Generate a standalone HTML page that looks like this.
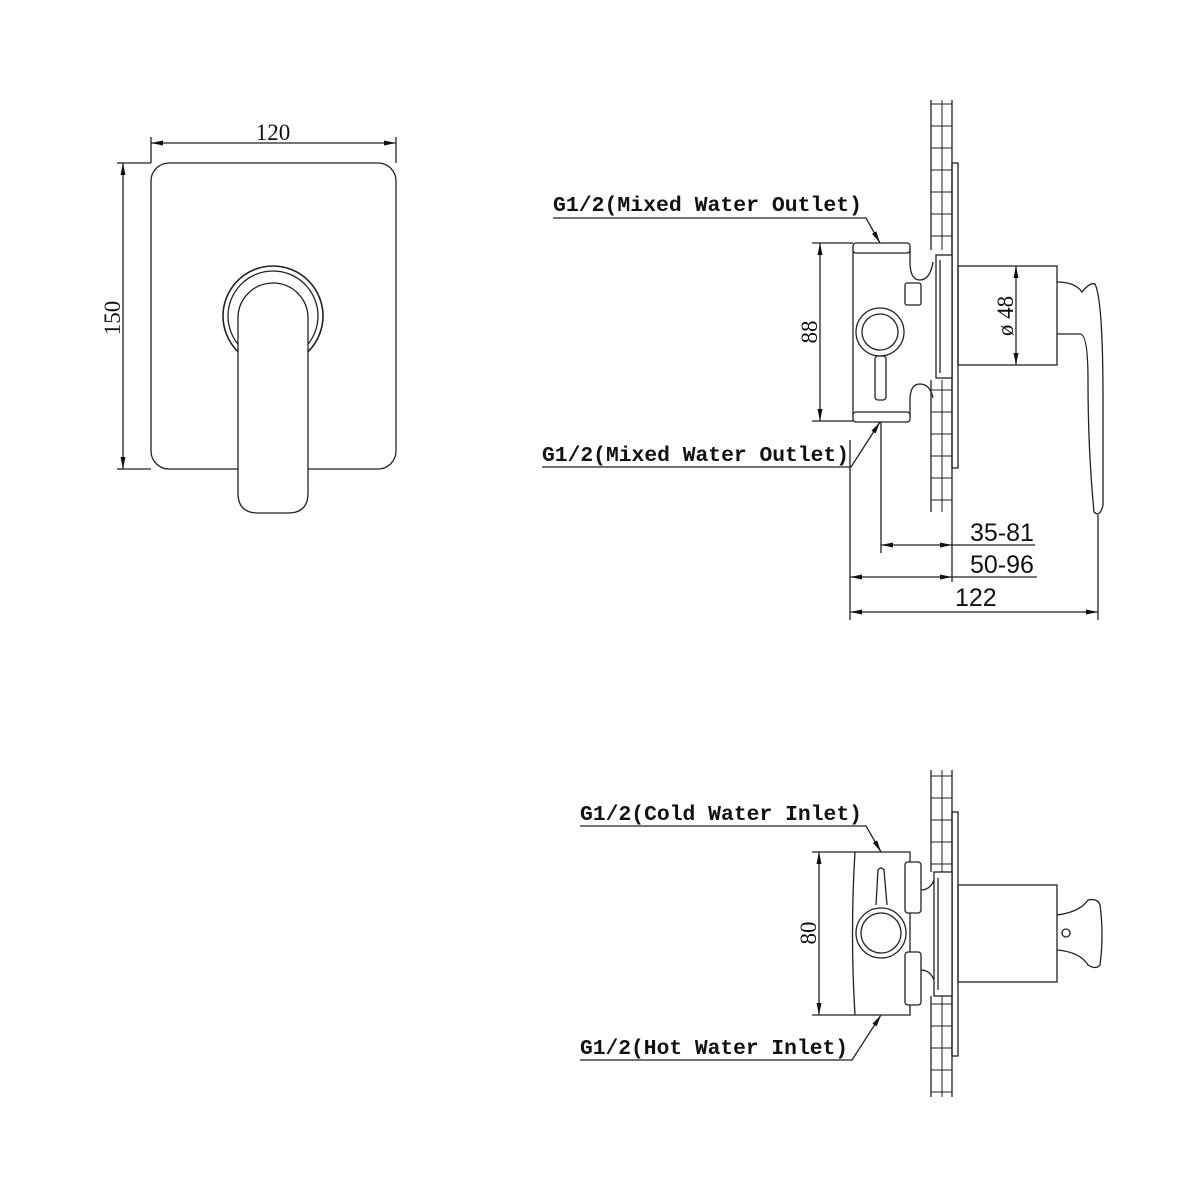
<!DOCTYPE html>
<html><head><meta charset="utf-8"><style>
html,body{margin:0;padding:0;background:#fff}
svg{display:block}
.m{font-family:"Liberation Mono",monospace;font-weight:bold;font-size:21px;fill:#111}
.n{font-family:"Liberation Serif",serif;font-size:23px;fill:#111;font-weight:normal}
.s{font-family:"Liberation Sans",sans-serif;font-size:25px;fill:#111}
</style></head><body>
<svg width="1200" height="1200" viewBox="0 0 1200 1200" xmlns="http://www.w3.org/2000/svg">
<defs>
<marker id="a" viewBox="0 0 12 6" refX="12" refY="3" markerWidth="12" markerHeight="6" orient="auto-start-reverse" markerUnits="userSpaceOnUse"><path d="M0,0.5 L12,3 L0,5.5z" fill="#111"/></marker>
</defs>
<g fill="none" stroke="#222" stroke-width="1.3">
<!-- LEFT VIEW -->
<rect x="151" y="163" width="245" height="306" rx="18"/>
<circle cx="273" cy="316" r="50" stroke-width="1.6"/>
<circle cx="273" cy="316" r="45"/>
<path d="M238,318 A35,35 0 0 1 308,318 L308,493 Q308,513 288,513 L258,513 Q238,513 238,493 Z" fill="#fff"/>
<line x1="151" y1="137" x2="151" y2="163"/><line x1="396" y1="137" x2="396" y2="163"/>
<line x1="151" y1="143" x2="396" y2="143" marker-start="url(#a)" marker-end="url(#a)"/>
<line x1="117" y1="163" x2="151" y2="163"/><line x1="117" y1="469" x2="151" y2="469"/>
<line x1="123" y1="163" x2="123" y2="469" marker-start="url(#a)" marker-end="url(#a)"/>

<!-- TOP RIGHT wall -->
<path stroke-width="1" d="M931,104h21M931,126h21M931,148h21M931,170h21M931,192h21M931,214h21M931,236h21M931,390h21M931,412h21M931,434h21M931,456h21M931,478h21M931,500h21M942,100V250M942,380V512"/>
<line x1="931" y1="100" x2="931" y2="250"/><line x1="931" y1="380" x2="931" y2="512"/>
<line x1="952" y1="100" x2="952" y2="512"/>
<rect x="952" y="163" width="6" height="305"/>
<rect x="936" y="255" width="16" height="123" fill="#fff"/>
<line x1="940" y1="260" x2="940" y2="373"/>
<path d="M853,248 L853,417 M910,248 L910,262 Q910,280 920,280 Q930,280 933,262 M910,417 L910,400 Q910,384 920,384 Q930,384 933,398"/>
<rect x="853" y="243" width="57" height="10" rx="3" fill="#fff"/>
<rect x="853" y="412" width="57" height="10" rx="3" fill="#fff"/>
<rect x="905" y="283" width="16" height="22" rx="2"/>
<circle cx="880" cy="332" r="24"/><circle cx="880" cy="332" r="18"/>
<rect x="875" y="356" width="11" height="44" rx="3"/>
<rect x="958" y="266" width="99" height="99"/>
<path d="M1057,282 Q1075,282 1082,292 Q1090,282 1095,284 Q1103,300 1103,400 L1103,505 Q1100,518 1094,512 Q1088,450 1088,380 Q1088,334 1080,334 L1057,334"/>
<line x1="1016" y1="266" x2="1016" y2="365" marker-start="url(#a)" marker-end="url(#a)"/>
<!-- 88 -->
<line x1="812" y1="243" x2="853" y2="243"/><line x1="812" y1="421" x2="853" y2="421"/>
<line x1="820" y1="243" x2="820" y2="421" marker-start="url(#a)" marker-end="url(#a)"/>
<path d="M553,218 L866,218 L880,243" marker-end="url(#a)"/>
<path d="M542,467 L851,467 L880,422" marker-end="url(#a)"/>
<line x1="881" y1="422" x2="881" y2="553"/>
<line x1="850" y1="440" x2="850" y2="620"/>
<line x1="952" y1="512" x2="952" y2="582"/>
<line x1="1098" y1="515" x2="1098" y2="620"/>
<line x1="881" y1="545" x2="952" y2="545" marker-start="url(#a)" marker-end="url(#a)"/>
<line x1="952" y1="545" x2="1035" y2="545"/>
<line x1="850" y1="577" x2="952" y2="577" marker-start="url(#a)" marker-end="url(#a)"/>
<line x1="952" y1="577" x2="1037" y2="577"/>
<line x1="850" y1="612" x2="1098" y2="612" marker-start="url(#a)" marker-end="url(#a)"/>

<!-- BOTTOM RIGHT -->
<path stroke-width="1" d="M931,776h21M931,798h21M931,820h21M931,842h21M931,864h21M931,1004h21M931,1026h21M931,1048h21M931,1070h21M931,1092h21M942,770V872M942,996V1097"/>
<line x1="931" y1="770" x2="931" y2="872"/><line x1="931" y1="996" x2="931" y2="1097"/>
<line x1="952" y1="770" x2="952" y2="1097"/>
<rect x="952" y="812" width="6" height="244"/>
<rect x="934" y="872" width="18" height="124" fill="#fff"/>
<line x1="938" y1="878" x2="938" y2="990"/>
<path d="M855,852 L910,852 L910,1015 L855,1015 Q850,933 855,852 Z"/>
<rect x="905" y="862" width="16" height="51" rx="3" fill="#fff"/>
<rect x="905" y="952" width="16" height="53" rx="3" fill="#fff"/>
<path d="M921,890 Q930,890 934,880 M921,970 Q930,970 934,980"/>
<path d="M876,905 L878,870 Q881,866 884,870 L887,905"/>
<circle cx="881" cy="933" r="25"/><circle cx="881" cy="933" r="20"/>
<rect x="958" y="885" width="99" height="97"/>
<path d="M1057,915 Q1080,912 1088,900 Q1098,898 1100,905 Q1104,935 1100,965 Q1096,970 1088,965 Q1080,952 1057,950"/>
<circle cx="1066" cy="933" r="4"/>
<line x1="812" y1="852" x2="855" y2="852"/><line x1="812" y1="1015" x2="855" y2="1015"/>
<line x1="819" y1="852" x2="819" y2="1015" marker-start="url(#a)" marker-end="url(#a)"/>
<path d="M580,826 L866,826 L881,852" marker-end="url(#a)"/>
<path d="M580,1060 L852,1060 L881,1015" marker-end="url(#a)"/>
</g>
<text class="n" x="273" y="140" text-anchor="middle">120</text>
<text class="n" transform="translate(120,318) rotate(-90)" text-anchor="middle">150</text>
<text class="n" transform="translate(1013,316) rotate(-90)" text-anchor="middle">&#248; 48</text>
<text class="m" x="553" y="211" textLength="309" lengthAdjust="spacingAndGlyphs">G1/2(Mixed Water Outlet)</text>
<text class="m" x="542" y="461" textLength="307" lengthAdjust="spacingAndGlyphs">G1/2(Mixed Water Outlet)</text>
<text class="n" transform="translate(817,332) rotate(-90)" text-anchor="middle">88</text>
<text class="s" x="970" y="541">35-81</text>
<text class="s" x="970" y="573">50-96</text>
<text class="s" x="955" y="606">122</text>
<text class="m" x="580" y="820" textLength="282" lengthAdjust="spacingAndGlyphs">G1/2(Cold Water Inlet)</text>
<text class="m" x="580" y="1054" textLength="268" lengthAdjust="spacingAndGlyphs">G1/2(Hot Water Inlet)</text>
<text class="n" transform="translate(816,933) rotate(-90)" text-anchor="middle">80</text>
</svg>
</body></html>
